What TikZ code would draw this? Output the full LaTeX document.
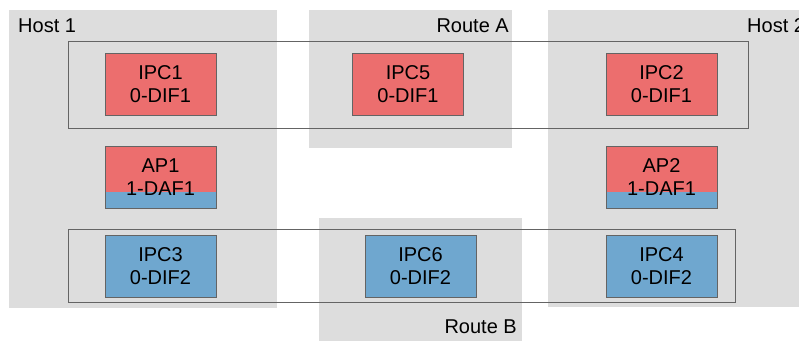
\documentclass[tikz,border=0pt]{standalone}
\usepackage{fontspec}
\setmainfont{Liberation Sans}
\usetikzlibrary{positioning,calc}
\definecolor{ipcred}{RGB}{236,110,110}
\definecolor{ipcblue}{RGB}{111,167,207}
\definecolor{zonegray}{RGB}{221,221,221}
\definecolor{edgegray}{RGB}{100,100,100}
\tikzset{
  zone/.style={fill=zonegray},
  difbox/.style={draw=edgegray, line width=0.9pt},
  ipc/.style={draw=edgegray, line width=0.9pt, minimum width=111pt, minimum height=62pt,
    inner sep=0pt, align=center, font=\fontsize{20}{23}\selectfont},
  redipc/.style={ipc, fill=ipcred},
  blueipc/.style={ipc, fill=ipcblue},
  daf/.style={ipc, fill=ipcred, path picture={
      \fill[ipcblue] (path picture bounding box.south west)
        rectangle ([yshift=16pt]path picture bounding box.south east);}},
  zonelabel/.style={inner sep=0pt, font=\fontsize{20}{23}\selectfont},
}
\begin{document}
\begin{tikzpicture}[x=1pt,y=-1pt]
\useasboundingbox (0,0) rectangle (799,340);
\clip (0,0) rectangle (799,340);
% hosts and routes
\fill[zone] (9,10) rectangle (277,308);
\fill[zone] (548,10) rectangle (810,307);
\fill[zone] (309,10) rectangle (512,148);
\fill[zone] (319,218) rectangle (522,345);
\node[zonelabel, anchor=base west] (host1) at (18,32) {Host 1};
\node[zonelabel, anchor=base east] (routea) at (509,32) {Route A};
\node[zonelabel, anchor=base west] (host2) at (747,32) {Host 2};
\node[zonelabel, anchor=base east] (routeb) at (517,333) {Route B};
% DIF outlines
\draw[difbox] (68,41) rectangle (748,128);
\draw[difbox] (68,229) rectangle (735,302);
% DIF1
\node[redipc] (ipc1) at (160.5,84) {IPC1\\0-DIF1};
\node[redipc] (ipc5) at (408,84) {IPC5\\0-DIF1};
\node[redipc] (ipc2) at (661.5,84) {IPC2\\0-DIF1};
% applications
\node[daf] (ap1) at (160.5,177) {AP1\\1-DAF1};
\node[daf] (ap2) at (661.5,177) {AP2\\1-DAF1};
% DIF2
\node[blueipc] (ipc3) at (160.5,266) {IPC3\\0-DIF2};
\node[blueipc] (ipc6) at (420.5,266) {IPC6\\0-DIF2};
\node[blueipc] (ipc4) at (661.5,266) {IPC4\\0-DIF2};
\end{tikzpicture}
\end{document}
